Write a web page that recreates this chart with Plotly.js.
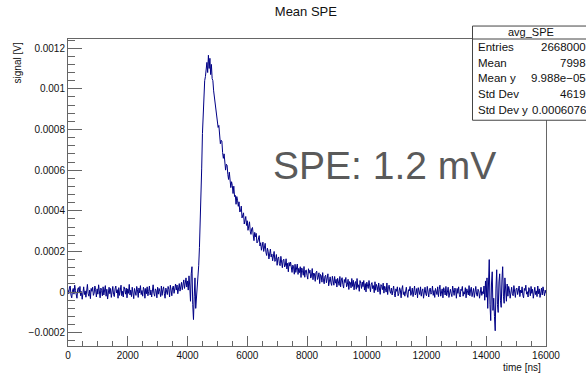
<!DOCTYPE html>
<html>
<head>
<meta charset="utf-8">
<script src="https://cdn.plot.ly/plotly-3.0.1.min.js"></script>
<style>
  html, body { margin: 0; padding: 0; background: #fff; }
  #chart { width: 586px; height: 379px; }
</style>
</head>
<body>
<div id="chart"></div>
<script>
// ---- data: signal in microvolts, one value per 25 ns bin; each segment starts at the given time ----
const binWidthNs = 25;

const baselineBeforeStart = 0;
const baselineBefore_uV = [12, -8, 25, 30, -15, -28, 5, 18, -10, 34,
  8, -22, -30, 15, 22, -5, 28, -18, 3, -35,
  20, 26, -12, 6, -25, 14, 38, -8, -20, 10,
  -32, 18, 4, 24, -16, -6, 30, 12, -24, 16,
  -10, 36, -2, -28, 20, 8, -18, 26, -14, 2,
  32, -20, 14, -34, 10, 24, -8, 18, -26, 6,
  28, -12, -22, 16, 30, -4, 12, -30, 22, -16,
  8, 34, -18, 4, -24, 26, 14, -10, 20, -28,
  16, -6, 38, -14, 10, -22, 24, 2, -32, 18,
  6, -16, 28, 12, -26, 20, -4, 32, -12, 8,
  -20, 24, 14, -30, 18, -8, 26, -18, 4, 30,
  -14, 10, -24, 22, 36, -6, -20, 16, 8, -28,
  24, -10, 18, 2, -22, 30, -16, 12, 26, -8,
  -30, 20, 6, -12, 28, 14, -24, 34, 10, -18,
  22, 30, -6, 16, 40];

const prePulseStart = 3625;
const prePulse_uV = [10, 35, -8, 20, 42, 5, 30, 48, 12, 40,
  60, 18, 45, 70, 25, 55, 10, 80, 30, -45,
  90, 125, -60, -135, -20, 70, -80, -30, 40, 60, 130];

const pulseStart = 4400;
const pulse_uV = [220, 330, 450, 610, 780, 880, 960, 1040, 1060, 1110,
  1130, 1080, 1165, 1100, 1150, 1070, 1120, 1050, 1040, 990,
  960, 940, 900, 885, 850];

const decayStart = 5025;
const decay_uV = [810, 820, 785, 730, 747, 743, 687, 658, 680, 650,
  600, 629, 624, 579, 554, 590, 552, 514, 543, 525,
  485, 521, 470, 476, 432, 470, 452, 422, 444, 394,
  398, 423, 365, 390, 390, 335, 361, 372, 328, 351,
  304, 330, 346, 300, 284, 312, 318, 281, 253, 294,
  272, 289, 242, 247, 270, 278, 227, 243, 206, 240,
  246, 200, 226, 240, 196, 180, 216, 201, 163, 210,
  212, 173, 187, 154, 187, 200, 151, 160, 185, 132,
  166, 173, 140, 130, 176, 152, 120, 158, 162, 124,
  130, 164, 114, 142, 100, 146, 128, 148, 110, 97,
  133, 124, 88, 137, 97, 112, 138, 87, 117, 96,
  125, 72, 119, 106, 83, 126, 73, 106, 109, 82,
  64, 115, 93, 108, 69, 80, 116, 61, 94, 89,
  53, 96, 103, 62, 72, 95, 42, 87, 80, 49,
  96, 59, 41, 78, 83, 46, 67, 90, 31, 70,
  75, 46, 33, 78, 55, 34, 77, 44, 63, 25,
  68, 56, 33, 77];

const tailStart = 9125;
const tail_uV = [26, 60, 71, 37, 20, 62, 47, 72, 26, 36,
  63, 13, 52, 48, 21, 67, 28, 58, 11, 43,
  52, 14, 67, 23, 36, 4, 57, 43, 18, 50,
  27, 57, 10, 42, 1, 49, 34, 18, 57, 9,
  2, 40, 47, 17, 32, -3, 51, 9, 38, 26,
  1, 45, 8, -11, 37, 29, 12, 44, -5, 29,
  18, 0, 45, -12, 28, 34, 5, -6];

const baselineAfterStart = 10825;
const baselineAfter_uV = [20, -14, 8, 30, -6, -24, 16, 4, 26, -18,
  -8, 22, 10, -28, 14, 32, -12, 2, -20, 18,
  24, -10, -26, 12, 6, 28, -16, -4, 20, -22,
  10, 30, -14, -6, 18, -28, 22, 8, -12, 26,
  -20, 4, 16, -30, 12, 24, -8, -18, 28, 2,
  -24, 14, 20, -10, -2, 30, -16, 8, -26, 18,
  6, -12, 26, -22, 12, 34, -20, -4, 16, -28,
  22, 8, -14, 28, -18, 0, 24, -26, 10, 14,
  -8, -22, 30, 4, -16, 20, 12, -30, 18, -6,
  26, -12, -24, 14, 8, 28, -20, 2, -10, 22,
  -28, 16, 6, -14, 32, -18, 10, 24, -22, -4,
  18, -26, 12, 28, -10, -20, 14, 6, -30, 20,
  24, -16, 2, -8];

const burstStart = 13925;
const burst_uV = [30, -40, 55, -25, 70, -80, 110, 160, -60, -140,
  40, 100, -90, -30, -120, -190, 20, 110, -60, -100,
  50, 90, -40, -75, 60, 125, -20, -55, 70, 30, -45, 40];

const baselineEndStart = 14725;
const baselineEnd_uV = [-20, 28, 10, -30, 14, 24, -8, -18, 32, 4,
  -26, 16, 20, -12, 6, 30, -22, 10, -4, 26,
  -16, -28, 18, 8, 34, -10, 2, -24, 22, 12,
  -18, 28, -6, 14, -30, 20, 24, -12, 6, -22,
  30, -8, 16, -26, 12, 20, -14, 26, 4, -18,
  10, -6];

const yTickVals = [-0.0002, 0, 0.0002, 0.0004, 0.0006, 0.0008, 0.001, 0.0012];
const yTickText = ["\u22120.0002", "0", "0.0002", "0.0004", "0.0006", "0.0008", "0.001", "0.0012"];
const xTickVals = [0, 2000, 4000, 6000, 8000, 10000, 12000, 14000, 16000];

const statsLabels = ["Entries", "Mean", "Mean y", "Std Dev", "Std Dev y"];
const statsValues = ["2668000", "7998", "9.988e\u221205", "4619", "0.0006076"];

// ---- build series ----
const segments = [
  [baselineBeforeStart, baselineBefore_uV], [prePulseStart, prePulse_uV], [pulseStart, pulse_uV],
  [decayStart, decay_uV], [tailStart, tail_uV], [baselineAfterStart, baselineAfter_uV],
  [burstStart, burst_uV], [baselineEndStart, baselineEnd_uV]
];
const timeNs = [], signalV = [];
segments.forEach(([start, vals]) => {
  vals.forEach((v, i) => { timeNs.push(start + i * binWidthNs); signalV.push(v * 1e-6); });
});

const FONT = '"Liberation Sans Narrow", "Liberation Sans", Arial, sans-serif';

const L = 68, R = 40, T = 38.5, B = 32.5, W = 586, H = 379;
const pw = W - L - R, ph = H - T - B;
const px = x => (x - L) / pw;
const py = y => (H - B - y) / ph;

const annotations = [
  { text: "signal [V]", xref: "paper", yref: "paper", x: px(17), y: py(63), textangle: -90,
    showarrow: false, font: { family: FONT, size: 10, color: "#111" }, xanchor: "center", yanchor: "middle" },
  { text: "time [ns]", xref: "paper", yref: "paper", x: px(543), y: py(368),
    showarrow: false, font: { family: FONT, size: 10, color: "#111" }, xanchor: "right", yanchor: "middle" },
  { text: "SPE: 1.2 mV", xref: "paper", yref: "paper", x: px(271), y: py(165),
    showarrow: false, font: { family: '"Liberation Sans", Arial, sans-serif', size: 39, color: "#5a5a5a" },
    xanchor: "left", yanchor: "middle" },
  { text: "avg_SPE", xref: "paper", yref: "paper", x: px(531), y: py(31.5),
    showarrow: false, font: { family: FONT, size: 11, color: "#111" }, xanchor: "center", yanchor: "middle" }
];
const rowY = [46.5, 62.5, 78, 94, 110];
statsLabels.forEach((lab, i) => {
  annotations.push({ text: lab, xref: "paper", yref: "paper", x: px(475.5), y: py(rowY[i]),
    showarrow: false, font: { family: FONT, size: 11.5, color: "#111" }, xanchor: "left", yanchor: "middle" });
  annotations.push({ text: statsValues[i], xref: "paper", yref: "paper", x: px(588), y: py(rowY[i]),
    showarrow: false, font: { family: FONT, size: 11.5, color: "#111" }, xanchor: "right", yanchor: "middle" });
});

const layout = {
  width: W, height: H,
  margin: { l: L, r: R, t: T, b: B, pad: 0 },
  paper_bgcolor: "#fff", plot_bgcolor: "#fff",
  showlegend: false,
  title: { text: "Mean SPE", x: 0.522, xanchor: "center", y: 1 - 11.5 / H, yanchor: "middle",
    font: { family: FONT, size: 13, color: "#111" } },
  xaxis: {
    range: [0, 16000], autorange: false, showgrid: false, zeroline: false,
    showline: true, mirror: true, linecolor: "#666", linewidth: 1,
    ticks: "inside", ticklen: 10, tickcolor: "#666", tickwidth: 1,
    tickmode: "array", tickvals: xTickVals, ticktext: xTickVals.map(String),
    tickfont: { family: FONT, size: 10, color: "#111" },
    minor: { ticks: "inside", ticklen: 5, dtick: 500, tick0: 0, tickcolor: "#666", showgrid: false }
  },
  yaxis: {
    range: [-0.000265, 0.001245], autorange: false, showgrid: false, zeroline: false,
    showline: true, mirror: true, linecolor: "#666", linewidth: 1,
    ticks: "inside", ticklen: 14, tickcolor: "#666", tickwidth: 1,
    tickmode: "array", tickvals: yTickVals, ticktext: yTickText,
    tickfont: { family: FONT, size: 10, color: "#111" },
    minor: { ticks: "inside", ticklen: 7, dtick: 0.00004, tick0: 0, tickcolor: "#666", showgrid: false }
  },
  shapes: [
    { type: "rect", xref: "paper", yref: "paper", x0: px(472.5), x1: 1.3, y0: py(120), y1: py(25.5),
      line: { color: "#444", width: 1 }, fillcolor: "#fff", layer: "above" },
    { type: "line", xref: "paper", yref: "paper", x0: px(472.5), x1: 1.3, y0: 1, y1: 1,
      line: { color: "#444", width: 1 }, layer: "above" }
  ],
  annotations: annotations
};

const trace = {
  x: timeNs, y: signalV, type: "scatter", mode: "lines",
  line: { color: "#000085", width: 1 }, hoverinfo: "skip"
};

Plotly.newPlot("chart", [trace], layout, { staticPlot: true, displayModeBar: false });
</script>
</body>
</html>
